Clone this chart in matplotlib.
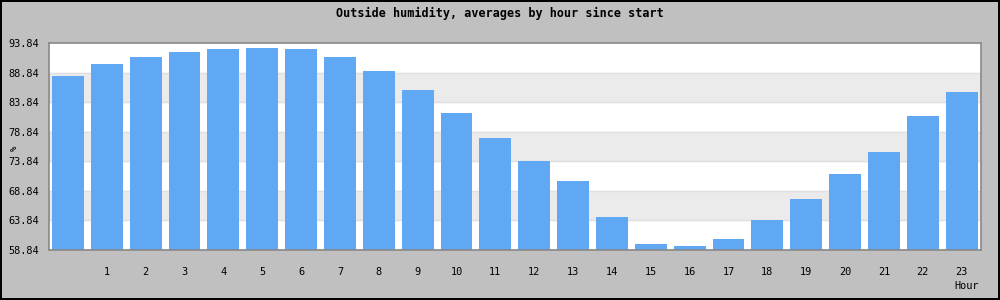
import numpy as np
import matplotlib
matplotlib.use("Agg")
import matplotlib.pyplot as plt

# average humidity per hour since start
hours = list(range(24))
humidity = [88.27, 90.29, 91.48, 92.32, 92.83, 93.00, 92.83, 91.48,
            89.11, 85.90, 82.02, 77.79, 73.91, 70.53, 64.45, 59.89,
            59.55, 60.73, 63.94, 67.49, 71.71, 75.43, 81.51, 85.56]
y_ticks = [58.84, 63.84, 68.84, 73.84, 78.84, 83.84, 88.84, 93.84]
x_labels = [str(h) for h in hours[1:]]

mono = "DejaVu Sans Mono"

fig = plt.figure(figsize=(10, 3), dpi=100)
fig.patch.set_facecolor("#c0c0c0")
fig.patch.set_edgecolor("black")
fig.patch.set_linewidth(1.5)

ax = fig.add_axes([0.0485, 0.1667, 0.9325, 0.69])
ax.set_facecolor("white")

# alternating grey bands between grid lines
for i in range(len(y_ticks) - 1):
    if i % 2 == 1:
        ax.axhspan(y_ticks[i], y_ticks[i + 1], color="#ebebeb", zorder=0)
for t in y_ticks[1:-1]:
    ax.axhline(t, color="#e0e0e0", lw=1, zorder=0.5)

ax.bar(hours, humidity, width=0.82, color="#60a8f4", zorder=2)

ax.set_xlim(-0.5, 23.5)
ax.set_ylim(y_ticks[0], y_ticks[-1])
ax.set_yticks(y_ticks)
ax.set_yticklabels([f"{t:.2f}" for t in y_ticks], family=mono, fontsize=7.4)
ax.set_xticks(hours[1:])
ax.set_xticklabels(x_labels, family=mono, fontsize=7.4)
ax.tick_params(length=0, pad=12, axis="x")
ax.tick_params(length=0, pad=7, axis="y")

for s in ax.spines.values():
    s.set_color("#888888")
    s.set_linewidth(1.2)

fig.text(0.5, 0.955, "Outside humidity, averages by hour since start",
         ha="center", va="center", family=mono, fontweight="bold", fontsize=8.5)
fig.text(0.0145, 0.507, "%", rotation=90, ha="center", va="center",
         family=mono, fontsize=6.5)
fig.text(0.979, 0.047, "Hour", ha="right", va="center", family=mono, fontsize=7.4)

fig.savefig("out.png", dpi=100, facecolor=fig.get_facecolor(),
            edgecolor=fig.get_edgecolor())
